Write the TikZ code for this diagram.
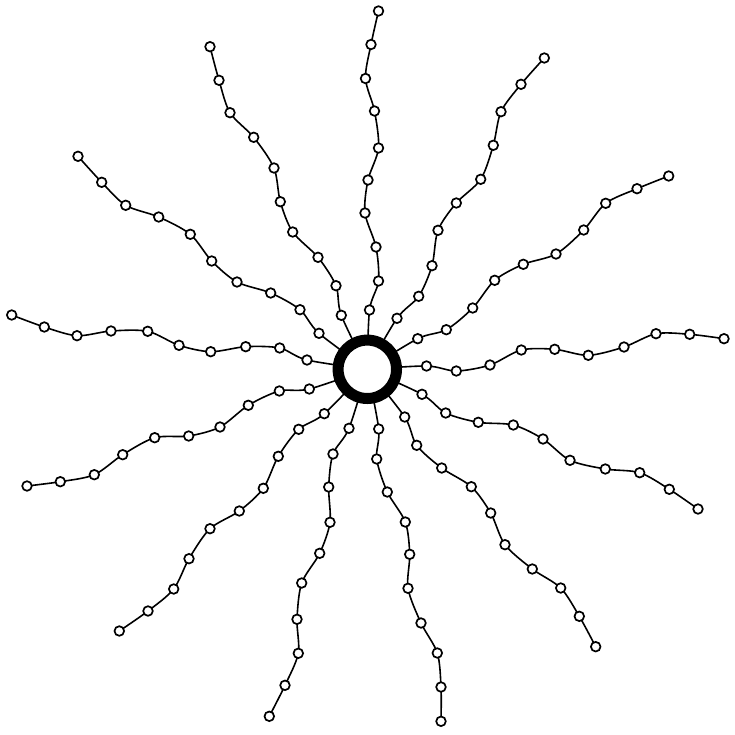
\documentclass[tikz,border=0pt]{standalone}
\tikzset{
  bead/.style={circle,draw,fill=white,line width=1.7pt,inner sep=0pt,minimum size=9.6pt},
  chain/.style={line width=1.6pt},
  hub/.style={circle,draw,fill=white,line width=11pt,inner sep=0pt,minimum size=58.4pt}
}
\begin{document}
\begin{tikzpicture}[x=1pt,y=-1pt]
    \useasboundingbox (0,0) rectangle (735,735);
    \coordinate (core) at (367.3,369.3);
    \foreach \arm [count=\a] in {
      {369.5/310,378.5/281,376/247,365/213,368/180,378.5/148,374.5/111,365.5/78.5,371/44.5,378.5/11},
      {397/318.3,418.7/296.3,432/265.7,438/230.3,456.3/203,480.7/179.3,493.3/145.3,501/111.7,521/84.3,544.3/58},
      {417.7/338.7,446.3/329.7,472.7/308,494.7/280.3,523.3/264.3,556/254,583.7/230,605.7/203.3,637/188.7,668.7/176},
      {426.5/366,456.3/371,490/365,521.3/350,554.7/349.3,588.3/355.3,624/347,656/333.7,689.7/334.3,724/338.7},
      {422/394.3,445.7/413,478.3/422.3,513.3/425,543/439,570/460.3,605.3/469,639.7/472.7,669.3/489.3,698/509},
      {404.7/417,416.7/445.3,441.7/468,471.3/486.7,490.7/513,505/544.7,532.3/569,560.7/588,579.3/616.3,595.7/646.7},
      {378.7/429,376.7/459,387.3/492,405.3/522,409.7/554.3,408/588.3,421/623,437.3/653,441/687,441/721.3},
      {349/428.3,333/454,328.7/487,330/522.3,319.7/553.3,301.7/583,297/619.3,298.3/653.3,285/685.3,269.3/716.3},
      {324.3/413.7,298.7/429.3,278.3/456.3,263.3/488.3,239.3/511,210/528.7,189/558.7,173.7/589,148/611,119.3/631},
      {309.3/389,279.3/391,248.3/405.3,220/427,188.7/436,154.7/437.7,122.7/454.7,94.3/474.7,60.3/481.7,27/486},
      {307/360,279.7/348,245.7/346.7,210.7/351.7,179/345.3,147.7/331.3,111/331,77/335.7,44.3/327,11.7/315},
      {319/333.3,300/309.7,270.7/293,237/282,211.7/261,190.3/234.3,158.7/217,125.7/205.3,101.7/182.3,78/156.3},
      {341.3/315.3,336/285.7,318/257.3,292.7/232,280.3/201.7,274/168,253.7/137.3,230/112.7,219/80.3,210/46.7}} {
      \foreach \x/\y [count=\j] in \arm {
        \coordinate (m-\a-\j) at (\x,\y);
      }
      \draw[chain] plot[smooth] coordinates {(core) (m-\a-1) (m-\a-2) (m-\a-3) (m-\a-4) (m-\a-5)
        (m-\a-6) (m-\a-7) (m-\a-8) (m-\a-9) (m-\a-10)};
      \foreach \j in {1,...,10} {
        \node[bead] (b-\a-\j) at (m-\a-\j) {};
      }
    }
    \node[hub] (ring) at (core) {};
  \end{tikzpicture}
\end{document}
